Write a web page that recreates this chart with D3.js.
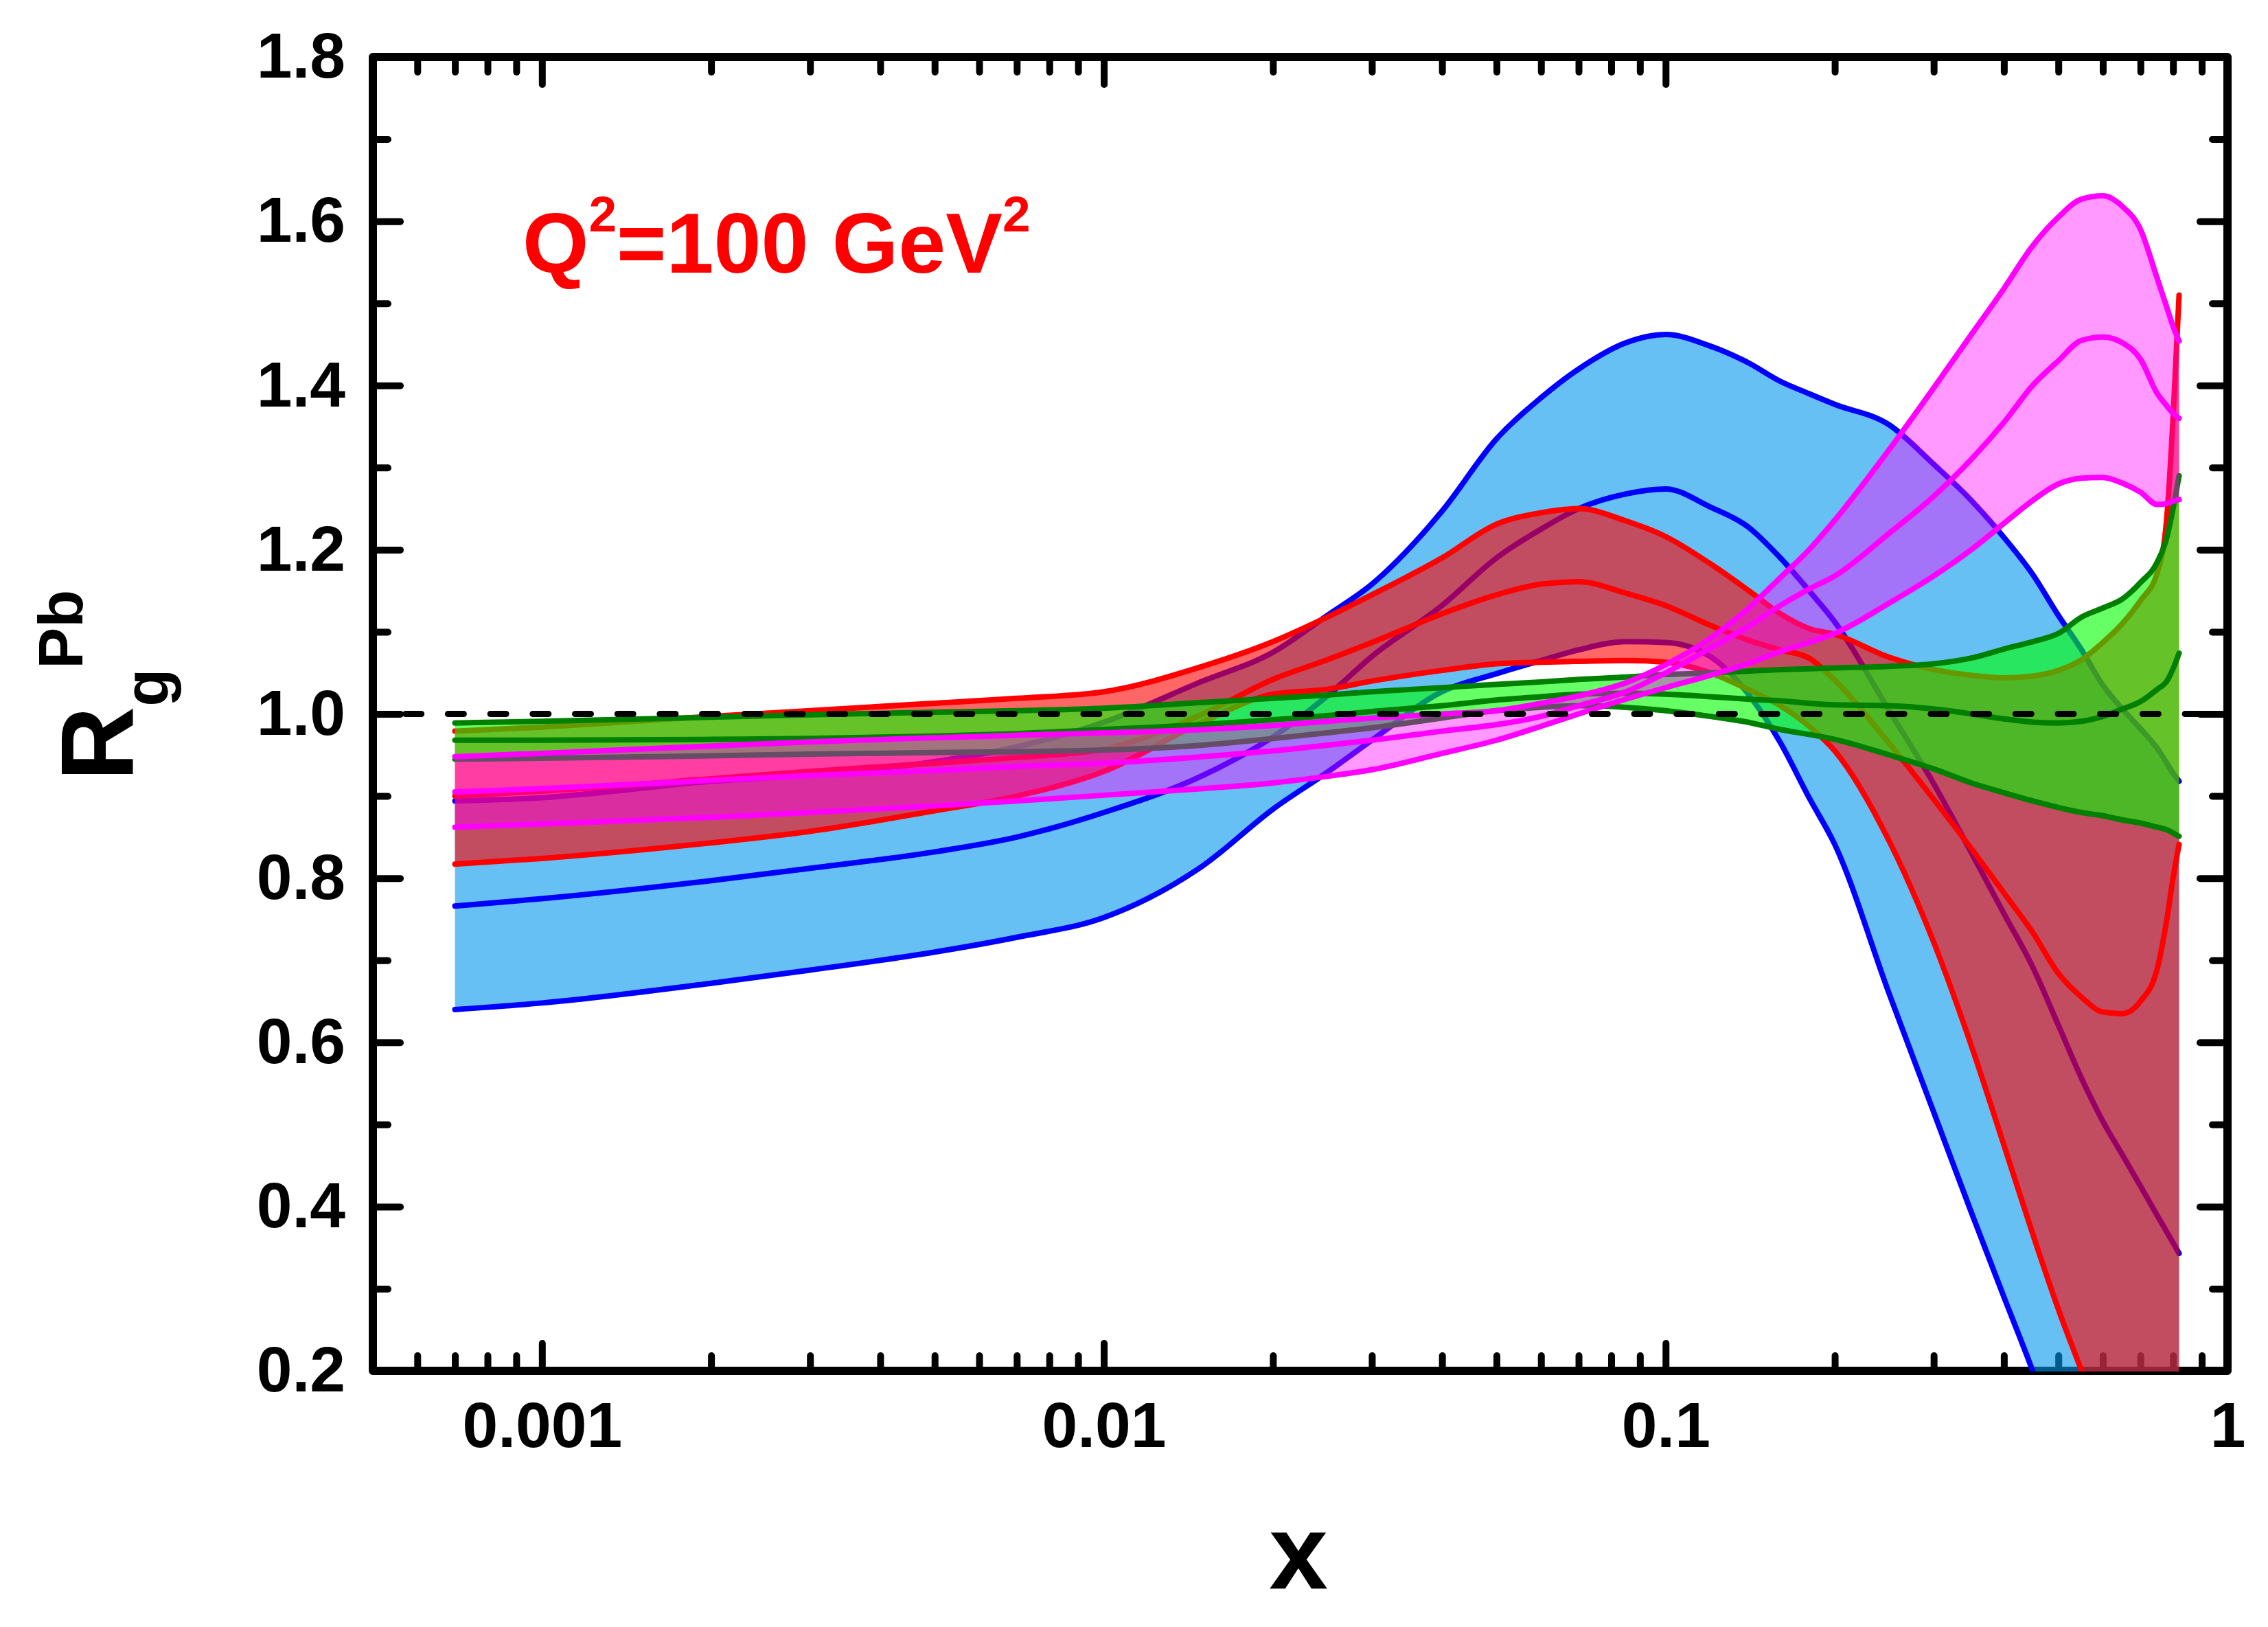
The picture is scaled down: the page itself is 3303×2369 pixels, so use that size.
<!DOCTYPE html>
<html>
<head>
<meta charset="utf-8">
<script src="https://d3js.org/d3.v7.min.js"></script>
<style>
  body { margin: 0; background: #fff; }
</style>
</head>
<body>
<div id="chart"></div>
<script>
// x grid shared by every curve
const xGrid = [0.0007, 0.001, 0.002, 0.003, 0.005, 0.007, 0.01, 0.015, 0.02, 0.025, 0.03, 0.04, 0.05, 0.06, 0.07, 0.085,
  0.1, 0.12, 0.14, 0.16, 0.18, 0.2, 0.25, 0.3, 0.35, 0.4, 0.45, 0.5, 0.55, 0.6, 0.65, 0.7, 0.75, 0.78, 0.8, 0.82];

const blueUpper = [0.894, 0.898, 0.918, 0.926, 0.942, 0.96, 0.99, 1.04, 1.075, 1.12, 1.158, 1.247, 1.335, 1.385, 1.42, 1.452,
  1.462, 1.448, 1.428, 1.405, 1.39, 1.377, 1.352, 1.304, 1.26, 1.215, 1.17, 1.12, 1.078, 1.035, 1.006, 0.982, 0.958, 0.94, 0.928, 0.918];
const blueCentral = [0.766, 0.775, 0.797, 0.812, 0.832, 0.85, 0.88, 0.925, 0.972, 1.022, 1.07, 1.132, 1.19, 1.225, 1.25, 1.268,
  1.274, 1.252, 1.228, 1.19, 1.15, 1.112, 1.004, 0.915, 0.831, 0.757, 0.692, 0.621, 0.556, 0.504, 0.463, 0.425, 0.389, 0.369, 0.356, 0.343];
const blueLower = [0.640, 0.648, 0.672, 0.688, 0.710, 0.728, 0.752, 0.815, 0.884, 0.929, 0.968, 1.027, 1.049, 1.065, 1.078, 1.088,
  1.087, 1.07, 1.025, 0.965, 0.898, 0.841, 0.659, 0.515, 0.393, 0.29, 0.2, 0.11, 0.03, -0.04, -0.1, -0.16, -0.21, -0.24, -0.26, -0.28];

const redUpper = [0.979, 0.984, 0.997, 1.004, 1.013, 1.019, 1.027, 1.058, 1.088, 1.118, 1.145, 1.19, 1.231, 1.245, 1.25, 1.235,
  1.216, 1.183, 1.151, 1.122, 1.104, 1.097, 1.069, 1.054, 1.047, 1.044, 1.046, 1.053, 1.066, 1.087, 1.11, 1.138, 1.172, 1.24, 1.36, 1.51];
const redCentral = [0.900, 0.906, 0.921, 0.930, 0.940, 0.947, 0.957, 1.0, 1.042, 1.066, 1.087, 1.122, 1.145, 1.158, 1.161, 1.147,
  1.132, 1.108, 1.09, 1.078, 1.068, 1.041, 0.964, 0.896, 0.836, 0.782, 0.734, 0.684, 0.655, 0.637, 0.635, 0.65, 0.69, 0.75, 0.80, 0.841];
const redLower = [0.817, 0.824, 0.843, 0.857, 0.882, 0.900, 0.93, 0.99, 1.024, 1.03, 1.04, 1.053, 1.061, 1.063, 1.064, 1.065,
  1.063, 1.05, 1.03, 1.01, 0.985, 0.955, 0.845, 0.722, 0.596, 0.475, 0.367, 0.275, 0.2, 0.132, 0.069, 0.011, -0.043, -0.073, -0.093, -0.112];

const greenUpper = [0.989, 0.991, 0.996, 0.999, 1.002, 1.004, 1.007, 1.014, 1.019, 1.023, 1.027, 1.032, 1.036, 1.039, 1.042, 1.045,
  1.048, 1.05, 1.052, 1.054, 1.055, 1.056, 1.058, 1.061, 1.068, 1.079, 1.088, 1.098, 1.118, 1.129, 1.14, 1.16, 1.185, 1.215, 1.25, 1.29];
const greenCentral = [0.968, 0.968, 0.969, 0.970, 0.973, 0.976, 0.981, 0.987, 0.993, 0.998, 1.003, 1.010, 1.017, 1.021, 1.024, 1.025,
  1.024, 1.021, 1.018, 1.016, 1.013, 1.011, 1.010, 1.006, 1.0, 0.994, 0.99, 0.989, 0.991, 0.997, 1.006, 1.015, 1.03, 1.04, 1.055, 1.074];
const greenLower = [0.945, 0.946, 0.949, 0.951, 0.953, 0.954, 0.956, 0.962, 0.97, 0.977, 0.983, 0.995, 1.004, 1.008, 1.01, 1.008,
  1.004, 0.997, 0.99, 0.981, 0.975, 0.969, 0.95, 0.933, 0.916, 0.904, 0.894, 0.886, 0.88, 0.876, 0.871, 0.867, 0.862, 0.859, 0.855, 0.851];

const magentaUpper = [0.948, 0.952, 0.961, 0.966, 0.971, 0.974, 0.977, 0.981, 0.986, 0.991, 0.995, 1.0, 1.004, 1.013, 1.022, 1.038,
  1.06, 1.092, 1.128, 1.166, 1.20, 1.236, 1.322, 1.397, 1.462, 1.518, 1.57, 1.605, 1.627, 1.631, 1.618, 1.59, 1.53, 1.495, 1.472, 1.454];
const magentaCentral = [0.905, 0.909, 0.919, 0.925, 0.931, 0.936, 0.940, 0.948, 0.955, 0.962, 0.968, 0.979, 0.987, 0.997, 1.01, 1.027,
  1.05, 1.08, 1.106, 1.132, 1.152, 1.168, 1.22, 1.265, 1.31, 1.355, 1.40, 1.43, 1.455, 1.459, 1.452, 1.432, 1.39, 1.375, 1.366, 1.360];
const magentaLower = [0.862, 0.866, 0.874, 0.880, 0.888, 0.894, 0.901, 0.909, 0.916, 0.924, 0.932, 0.952, 0.968, 0.985, 1.0, 1.018,
  1.032, 1.047, 1.061, 1.076, 1.087, 1.098, 1.135, 1.168, 1.20, 1.232, 1.26, 1.28, 1.287, 1.288, 1.281, 1.27, 1.255, 1.256, 1.259, 1.261];

// tick values
const xMajor = [0.001, 0.01, 0.1, 1];
const xMinor = [0.0006, 0.0007, 0.0008, 0.0009, 0.002, 0.003, 0.004, 0.005, 0.006, 0.007, 0.008, 0.009,
  0.02, 0.03, 0.04, 0.05, 0.06, 0.07, 0.08, 0.09, 0.2, 0.3, 0.4, 0.5, 0.6, 0.7, 0.8, 0.9];
const yMajor = [0.2, 0.4, 0.6, 0.8, 1.0, 1.2, 1.4, 1.6, 1.8];
const yMinor = [0.3, 0.5, 0.7, 0.9, 1.1, 1.3, 1.5, 1.7];

const W = 3303, H = 2369;
const plotLeft = 543, plotRight = 3244, plotTop = 83, plotBottom = 1996;
const font = "'Liberation Sans', Arial, Helvetica, sans-serif";

const svg = d3.select("#chart").append("svg")
    .attr("width", W)
    .attr("height", H);
svg.append("rect").attr("width", W).attr("height", H).attr("fill", "#fff");

const x = d3.scaleLog().domain([0.0005, 1]).range([plotLeft, plotRight]);
const y = d3.scaleLinear().domain([0.2, 1.8]).range([plotBottom, plotTop]);

// ticks first, bands are painted over them like in the original
function tickAxis(axis, transform) {
    const g = svg.append("g").attr("transform", transform).call(axis);
    g.select(".domain").remove();
    g.attr("font-size", 93).attr("font-family", font).attr("font-weight", "bold");
    g.selectAll(".tick line")
        .attr("stroke", "#000")
        .attr("stroke-width", 10)
        .attr("stroke-linecap", "round");
    g.selectAll(".tick text").attr("fill", "#000");
    return g;
}

tickAxis(d3.axisBottom(x).tickValues(xMinor).tickSize(-22).tickFormat(""), `translate(0,${plotBottom})`);
tickAxis(d3.axisBottom(x).tickValues(xMajor).tickSize(-40).tickPadding(45).tickFormat(d => String(d)), `translate(0,${plotBottom})`);
tickAxis(d3.axisTop(x).tickValues(xMinor).tickSize(-22).tickFormat(""), `translate(0,${plotTop})`);
tickAxis(d3.axisTop(x).tickValues(xMajor).tickSize(-40).tickFormat(""), `translate(0,${plotTop})`);
tickAxis(d3.axisLeft(y).tickValues(yMinor).tickSize(-22).tickFormat(""), `translate(${plotLeft},0)`);
tickAxis(d3.axisLeft(y).tickValues(yMajor).tickSize(-40).tickPadding(40).tickFormat(d3.format(".1f")), `translate(${plotLeft},0)`);
tickAxis(d3.axisRight(y).tickValues(yMinor).tickSize(-22).tickFormat(""), `translate(${plotRight},0)`);
tickAxis(d3.axisRight(y).tickValues(yMajor).tickSize(-40).tickFormat(""), `translate(${plotRight},0)`);

svg.append("rect")
    .attr("x", plotLeft).attr("y", plotTop)
    .attr("width", plotRight - plotLeft).attr("height", plotBottom - plotTop)
    .attr("fill", "none")
    .attr("stroke", "#000")
    .attr("stroke-width", 12)
    .attr("stroke-linejoin", "round");

svg.append("clipPath").attr("id", "plot-clip")
    .append("rect")
    .attr("x", plotLeft).attr("y", plotTop)
    .attr("width", plotRight - plotLeft).attr("height", plotBottom - plotTop + 1);

const bands = [
    { line: "#0000ff", fill: "rgba(0,150,235,0.6)", upper: blueUpper, central: blueCentral, lower: blueLower },
    { line: "#ff0000", fill: "rgba(255,0,0,0.6)", upper: redUpper, central: redCentral, lower: redLower },
    { line: "#008000", fill: "rgba(0,255,0,0.6)", upper: greenUpper, central: greenCentral, lower: greenLower },
    { line: "#ff00ff", fill: "rgba(255,0,255,0.4)", upper: magentaUpper, central: magentaCentral, lower: magentaLower }
];

const area = d3.area()
    .x(d => x(d.x))
    .y0(d => y(d.lo))
    .y1(d => y(d.hi))
    .curve(d3.curveMonotoneX);

const line = d3.line()
    .x(d => x(d[0]))
    .y(d => y(d[1]))
    .curve(d3.curveMonotoneX);

const plot = svg.append("g").attr("clip-path", "url(#plot-clip)");

bands.forEach(b => {
    const pts = xGrid.map((xv, i) => ({ x: xv, lo: b.lower[i], hi: b.upper[i] }));
    plot.append("path")
        .attr("d", area(pts))
        .attr("fill", b.fill)
        .attr("stroke", "none");

    [b.upper, b.central, b.lower].forEach(vals => {
        plot.append("path")
            .attr("d", line(xGrid.map((xv, i) => [xv, vals[i]])))
            .attr("fill", "none")
            .attr("stroke", b.line)
            .attr("stroke-width", 8)
            .attr("stroke-linecap", "round")
            .attr("stroke-linejoin", "round");
    });
});

// reference line at R = 1
svg.append("path")
    .attr("d", d3.line().x(d => x(d[0])).y(d => y(d[1]))([[0.0005, 1], [1, 1]]))
    .attr("stroke", "#000")
    .attr("stroke-width", 9)
    .attr("stroke-dasharray", "23 38.7")
    .attr("stroke-dashoffset", 14)
    .attr("stroke-linecap", "round");

// labels
svg.append("text")
    .attr("x", 1891).attr("y", 2313)
    .attr("text-anchor", "middle")
    .attr("font-family", font).attr("font-weight", "bold")
    .attr("font-size", 154)
    .text("x");

const yl = svg.append("text")
    .attr("transform", "translate(193,1137) rotate(-90)")
    .attr("font-family", font).attr("font-weight", "bold")
    .attr("font-size", 150);
yl.append("tspan").text("R");
yl.append("tspan").attr("font-size", 90).attr("dy", 52).text("g");
yl.append("tspan").attr("font-size", 90).attr("dy", -125).text("Pb");

const q = svg.append("text")
    .attr("x", 761).attr("y", 397)
    .attr("fill", "#ff0000")
    .attr("font-family", font).attr("font-weight", "bold")
    .attr("font-size", 124);
q.append("tspan").text("Q");
q.append("tspan").attr("font-size", 73).attr("dy", -60).text("2");
q.append("tspan").attr("dy", 60).text("=100 GeV");
q.append("tspan").attr("font-size", 73).attr("dy", -60).text("2");
</script>
</body>
</html>
